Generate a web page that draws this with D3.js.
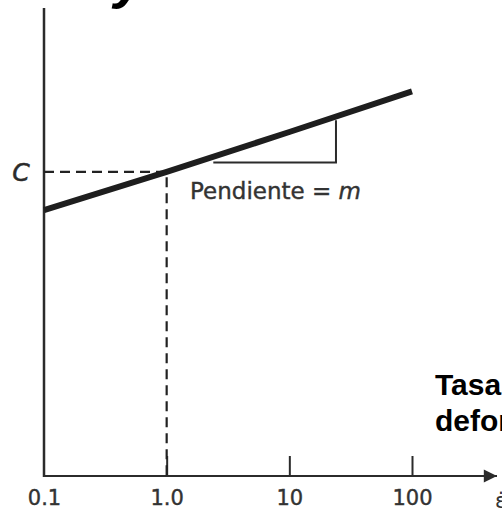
<!DOCTYPE html>
<html>
<head>
<meta charset="utf-8">
<script src="https://cdnjs.cloudflare.com/ajax/libs/d3/7.8.5/d3.min.js"></script>
<style>
	body { margin: 0; background: #fff; }
	svg { display: block; }
</style>
</head>
<body>
<div id="chart"></div>
<script>
	// strain rate (log) vs stress line
	var lineX = [0.1, 1, 10, 100];
	var lineY = [5.68, 6.5, 7.35, 8.22];

	// C reference at strain rate 1.0
	var refX = 1;
	var refY = 6.5;

	// slope triangle corners
	var slopeX = [2.4, 24, 24];
	var slopeY = [6.7, 6.7, 7.6];

	var tickValues = [0.1, 1, 10, 100];
	var tickLabels = ["0.1", "1.0", "10", "100"];

(function () {
	'use strict';

	var options = {
		width: 502,
		height: 512,
		ink: "#2b2b2b",
		labelFont: "'DejaVu Sans', sans-serif",
		boldFont: "'Liberation Sans', Arial, sans-serif"
	};

	var svg = d3.select("#chart").append("svg")
		.attr("width", options.width)
		.attr("height", options.height);

	var x = d3.scaleLog()
		.domain([0.1, 100])
		.range([44, 412]);

	var y = d3.scaleLinear()
		.domain([0, 10])
		.range([476, 8]);

	// arrow head for the x axis
	svg.append("defs").append("marker")
		.attr("id", "arrow")
		.attr("viewBox", "0 0 10 10")
		.attr("refX", 10)
		.attr("refY", 5)
		.attr("markerWidth", 10)
		.attr("markerHeight", 6)
		.attr("markerUnits", "strokeWidth")
		.attr("orient", "auto")
		.append("path")
		.attr("d", "M0,0L10,5L0,10Z")
		.attr("fill", options.ink);

	// y axis (no ticks)
	svg.append("line")
		.attr("x1", x(0.1))
		.attr("x2", x(0.1))
		.attr("y1", y(10))
		.attr("y2", y(0) + 1)
		.attr("stroke", options.ink)
		.attr("stroke-width", 2.5);

	// x axis line with arrow
	svg.append("line")
		.attr("x1", x(0.1))
		.attr("x2", 497)
		.attr("y1", y(0))
		.attr("y2", y(0))
		.attr("stroke", options.ink)
		.attr("stroke-width", 2.2)
		.attr("marker-end", "url(#arrow)");

	// x axis ticks + labels
	var xAxis = svg.append("g")
		.attr("transform", "translate(0," + y(0) + ")")
		.call(d3.axisBottom(x)
			.tickValues(tickValues)
			.tickFormat(function (d, i) { return tickLabels[i]; })
			.tickSizeInner(-20)
			.tickSizeOuter(0)
			.tickPadding(14));

	xAxis.select(".domain").remove();
	xAxis.selectAll(".tick line")
		.attr("stroke", options.ink)
		.attr("stroke-width", 2)
		.filter(function (d) { return d === 0.1; })
		.remove();
	xAxis.selectAll(".tick text")
		.attr("fill", "#333")
		.attr("stroke", "#333")
		.attr("stroke-width", 0.4)
		.style("font-family", options.labelFont)
		.style("font-size", "21px");

	// dashed guides to C
	svg.append("path")
		.attr("d", d3.line()([
			[x(0.1), y(refY)],
			[x(refX), y(refY)],
			[x(refX), y(0)]
		]))
		.attr("fill", "none")
		.attr("stroke", "#222")
		.attr("stroke-width", 2.2)
		.attr("stroke-dasharray", "10,6");

	// main line
	svg.append("path")
		.datum(lineX.map(function (d, i) { return [d, lineY[i]]; }))
		.attr("d", d3.line()
			.x(function (d) { return x(d[0]); })
			.y(function (d) { return y(d[1]); }))
		.attr("fill", "none")
		.attr("stroke", "#1e1e1e")
		.attr("stroke-width", 6);

	// slope triangle
	svg.append("path")
		.datum(slopeX.map(function (d, i) { return [d, slopeY[i]]; }))
		.attr("d", d3.line()
			.x(function (d) { return x(d[0]); })
			.y(function (d) { return y(d[1]); }))
		.attr("fill", "none")
		.attr("stroke", options.ink)
		.attr("stroke-width", 2);

	svg.append("text")
		.attr("x", 190)
		.attr("y", 199)
		.attr("fill", "#333")
		.attr("stroke", "#333")
		.attr("stroke-width", 0.4)
		.style("font-family", options.labelFont)
		.style("font-size", "23px")
		.text("Pendiente = ")
		.append("tspan")
		.style("font-style", "italic")
		.text("m");

	// C label
	svg.append("text")
		.attr("x", 21)
		.attr("y", y(refY) + 9)
		.attr("text-anchor", "middle")
		.attr("fill", "#2b2b2b")
		.attr("stroke", "#2b2b2b")
		.attr("stroke-width", 0.5)
		.style("font-family", options.labelFont)
		.style("font-style", "italic")
		.style("font-size", "25px")
		.text("C");

	// strain rate symbol at the arrow
	svg.append("text")
		.attr("x", 495)
		.attr("y", 508)
		.attr("fill", "#333")
		.style("font-family", options.labelFont)
		.style("font-size", "21px")
		.text("ε\u0307");

	// y axis title (cut at the top)
	svg.append("text")
		.attr("x", 114)
		.attr("y", -3)
		.attr("fill", "#000")
		.style("font-family", options.boldFont)
		.style("font-weight", "bold")
		.style("font-style", "italic")
		.style("font-size", "56px")
		.text("y");

	// x axis title (cut at the right)
	var title = svg.append("text")
		.attr("fill", "#000")
		.style("font-family", options.boldFont)
		.style("font-weight", "bold")
		.style("font-size", "30px");

	title.append("tspan")
		.attr("x", 435)
		.attr("y", 395)
		.text("Tasa de");
	title.append("tspan")
		.attr("x", 435)
		.attr("y", 431)
		.text("deformación");
})();
</script>
</body>
</html>
